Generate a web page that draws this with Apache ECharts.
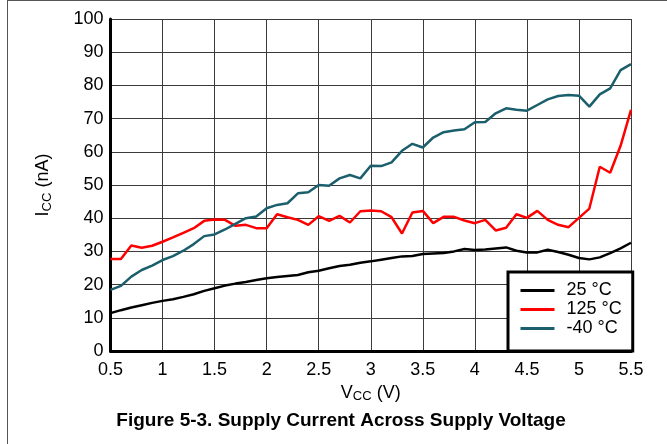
<!DOCTYPE html>
<html>
<head>
<meta charset="utf-8">
<script src="https://cdn.jsdelivr.net/npm/echarts@6/dist/echarts.min.js"></script>
<style>
html,body{margin:0;padding:0;background:#fff;}
#chart{width:667px;height:444px;}
</style>
</head>
<body>
<div id="chart"></div>
<script>
var voltages = [0.5,0.6,0.7,0.8,0.9,1.0,1.1,1.2,1.3,1.4,1.5,1.6,1.7,1.8,1.9,2.0,2.1,2.2,2.3,2.4,2.5,2.6,2.7,2.8,2.9,3.0,3.1,3.2,3.3,3.4,3.5,3.6,3.7,3.8,3.9,4.0,4.1,4.2,4.3,4.4,4.5,4.6,4.7,4.8,4.9,5.0,5.1,5.2,5.3,5.4,5.5];
var icc25 = [11.4,12.3,13.1,13.8,14.5,15.1,15.6,16.3,17.1,18.1,18.9,
  19.7,20.3,20.8,21.4,21.9,22.3,22.6,22.9,23.7,24.2,
  24.9,25.6,26.0,26.6,27.0,27.5,28.0,28.5,28.6,29.2,
  29.4,29.5,30.0,30.7,30.4,30.6,30.9,31.2,30.2,29.7,
  29.7,30.5,29.8,29.0,28.0,27.6,28.2,29.5,30.9,32.6];
var icc125 = [27.7,27.7,31.8,31.1,31.7,32.9,34.2,35.6,37.0,39.2,39.6,
  39.5,37.7,38.0,37.0,37.0,41.2,40.3,39.5,38.0,40.6,
  39.2,40.7,38.7,42.1,42.3,42.1,40.3,35.4,41.7,42.2,
  38.5,40.4,40.4,39.3,38.5,39.5,36.3,37.1,41.2,40.1,
  42.2,39.5,38.0,37.3,40.1,42.9,55.5,53.7,61.8,72.6];
var iccM40 = [18.4,19.6,22.4,24.4,25.7,27.4,28.6,30.2,32.2,34.6,35.1,
  36.6,38.3,40.0,40.5,43.0,44.0,44.5,47.5,47.8,50.0,
  49.8,52.0,53.0,52.0,55.8,55.7,56.8,60.3,62.4,61.3,
  64.3,65.9,66.4,66.8,68.9,69.0,71.6,73.1,72.7,72.4,
  74.1,75.8,76.8,77.1,76.9,73.6,77.3,79.1,84.6,86.4];
var seriesNames = ['25 °C','125 °C','-40 °C'];
var seriesColors = ['#000000','#ff0000','#1b5e6c'];
var captionText = 'Figure 5-3. Supply Current Across Supply Voltage';

function pairs(vals){ return voltages.map(function(v,i){ return [v, vals[i]]; }); }
var allVals = [icc25, icc125, iccM40];

var chart = echarts.init(document.getElementById('chart'), null, {renderer:'canvas'});
var font = 'Liberation Sans, Arial, sans-serif';
chart.setOption({
  animation:false,
  backgroundColor:'#fff',
  textStyle:{fontFamily:font},
  grid:{left:110.5, right:36, top:19, bottom:93, containLabel:false},
  xAxis:{
    type:'value', min:0.5, max:5.5, interval:0.5,
    axisLine:{show:true, onZero:false, lineStyle:{color:'#000', width:3}},
    axisTick:{show:false},
    axisLabel:{color:'#000', fontSize:18, fontFamily:font, margin:10},
    splitLine:{show:true, lineStyle:{color:'#3a3a3a', width:1}},
    name:'{m|V}{s|CC}{m| (V)}', nameLocation:'middle', nameGap:29,
    nameTextStyle:{color:'#000', fontFamily:font, rich:{
      m:{fontSize:18, color:'#000', fontFamily:font},
      s:{fontSize:13, color:'#000', fontFamily:font, padding:[8,0,0,0]}
    }}
  },
  yAxis:{
    type:'value', min:0, max:100, interval:10,
    axisLine:{show:true, lineStyle:{color:'#000', width:3}},
    axisTick:{show:false},
    axisLabel:{color:'#000', fontSize:18, fontFamily:font, margin:7},
    splitLine:{show:true, lineStyle:{color:'#3a3a3a', width:1}},
    name:'{m|I}{s|CC}{m| (nA)}', nameLocation:'middle', nameGap:57, nameRotate:90,
    nameTextStyle:{color:'#000', fontFamily:font, rich:{
      m:{fontSize:18, color:'#000', fontFamily:font},
      s:{fontSize:13, color:'#000', fontFamily:font, padding:[8,0,0,0]}
    }}
  },
  legend:{
    orient:'vertical', left:508, top:272,
    backgroundColor:'#fff', borderColor:'#000', borderWidth:3,
    padding:[9,11,13,11], itemWidth:34, itemHeight:14, itemGap:0,
    itemStyle:{opacity:0},
    lineStyle:{width:3},
    textStyle:{color:'#000', fontSize:18, lineHeight:19, fontFamily:font, padding:[0,0,0,7]},
    data:seriesNames
  },
  series: seriesNames.map(function(n,i){
    return {
      name:n, type:'line', data:pairs(allVals[i]),
      symbol:'none', showSymbol:false,
      lineStyle:{color:seriesColors[i], width:2.5},
      itemStyle:{color:seriesColors[i]},
      z:3+i
    };
  }),
  graphic:[
    {type:'line', shape:{x1:7.5,y1:0,x2:7.5,y2:444}, style:{stroke:'#555', lineWidth:1}},
    {type:'line', shape:{x1:7,y1:0.5,x2:667,y2:0.5}, style:{stroke:'#555', lineWidth:1}},
    {type:'text', x:341, y:421, style:{text:captionText, font:'bold 19px Liberation Sans, Arial, sans-serif', fill:'#000', align:'center', verticalAlign:'middle', textAlign:'center', textVerticalAlign:'middle'}}
  ]
});
</script>
</body>
</html>
